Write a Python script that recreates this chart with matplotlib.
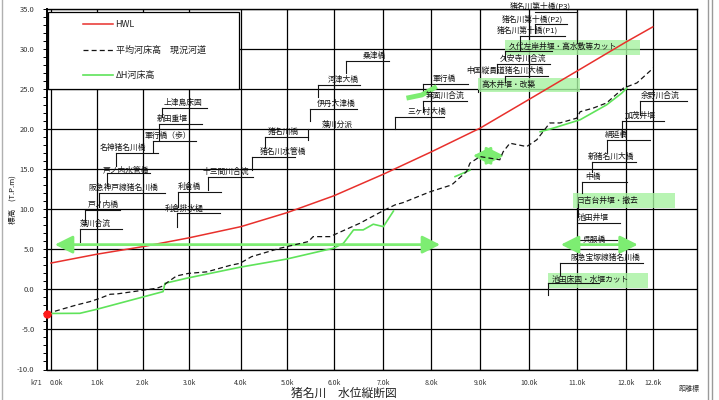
import numpy as np
import matplotlib
matplotlib.use("Agg")
import matplotlib.pyplot as plt
from matplotlib.patches import Rectangle
from matplotlib.lines import Line2D
import matplotlib.transforms as mtransforms

plt.rcParams['font.family'] = ['Noto Sans CJK JP', 'DejaVu Sans']
plt.rcParams['axes.unicode_minus'] = False

nan = np.nan

# distance markers along the channel (km) and their labels
marker_pos = [0.0, 0.95, 1.91, 2.87, 3.95, 4.91, 5.88, 6.91, 7.91, 8.92, 9.94, 10.94, 11.95, 12.51]
marker_labels = ["0.0k", "1.0k", "2.0k", "3.0k", "4.0k", "5.0k", "6.0k", "7.0k",
                 "8.0k", "9.0k", "10.0k", "11.0k", "12.0k", "12.6k"]

# HWL (design high water level)
hwl_km = [0.0, 0.95, 1.91, 2.87, 3.95, 4.91, 5.88, 6.91, 7.91, 8.92, 9.94, 10.94, 11.95, 12.51]
hwl_level = [3.3, 4.4, 5.35, 6.45, 7.85, 9.6, 11.7, 14.4, 17.2, 20.15, 23.75, 27.3, 30.9, 32.8]

# mean bed level, present channel
bed_km = [-0.08, 0.53, 0.81, 1.02, 1.23, 1.37, 1.85, 2.2, 2.33, 2.4, 2.61, 2.85, 3.24, 3.72,
          3.93, 4.17, 4.76, 5.35, 5.45, 5.8, 6.42, 6.91, 7.15, 7.32, 7.88, 8.33, 8.64, 8.71,
          8.92, 9.33, 9.4, 9.54, 9.89, 10.1, 10.37, 10.58, 10.93, 11.0, 11.27, 11.55, 11.9,
          12.18, 12.52]
bed_level = [-3.0, -1.94, -1.52, -1.1, -0.6, -0.56, -0.15, 0.15, 0.44, 0.8, 1.69, 2.0, 2.2, 3.0,
             3.27, 4.1, 5.15, 5.98, 6.6, 6.6, 8.27, 9.85, 10.56, 10.85, 12.2, 13.06, 14.73, 15.78,
             16.6, 16.2, 17.2, 18.27, 17.85, 18.7, 20.8, 20.8, 21.4, 22.2, 22.65, 23.3, 25.15,
             25.8, 27.65]

# ΔH bed level
dh_km = [-0.08, 0.6, 0.95, 2.33, 2.37, 2.82, 3.93, 4.9, 5.87, 6.08, 6.29, 6.49, 6.7, 6.91, 7.12,
         nan, 8.4, 8.71, nan, 10.17, 10.44, 11.0, 11.55, 11.86, 11.97]
dh_level = [-3.0, -2.98, -2.48, -0.27, 0.77, 1.4, 2.78, 3.8, 5.15, 5.77, 7.44, 7.44, 8.15, 7.85, 9.8,
            nan, 14.1, 14.9, nan, 19.7, 20.15, 21.2, 23.06, 24.5, 25.15]

# starting water level at the river mouth
start_km, start_level = -0.08, -3.1

# works ranges shown as double arrows: (from km, to km, level)
arrow_spans = [(0.08, 8.09, 5.6), (10.6, 12.2, 5.6), (8.77, 9.42, 16.7)]
weir_mark_km = [7.39, 7.71, 8.02]
weir_mark_level = [23.9, 24.3, 25.35]

# structure labels with leader lines: (leader km, leader bottom, underline level, underline end km, text km, text dy)
label_names = [
    "上津島床固", "新田重堰", "軍行橋（歩）", "名神猪名川橋", "戸ノ内水管橋", "阪急神戸線猪名川橋",
    "戸ノ内橋", "藻川合流", "利倉橋", "利倉排水樋", "十三間川合流", "猪名川水管橋", "猪名川橋",
    "藻川分派", "伊丹大津橋", "河津大橋", "桑津橋", "軍行橋", "箕面川合流", "三ヶ村大橋",
    "猪名川第十橋(P3)", "猪名川第十橋(P2)", "猪名川第十橋(P1)", "久安寺川合流",
    "中国縦貫道猪名川大橋", "余野川合流", "加茂井堰", "絹延橋", "新猪名川大橋", "中橋",
    "池田井堰", "呉服橋", "阪急宝塚線猪名川橋",
]
label_geom = [
    (2.31, 21.56, 22.69, 3.24, 2.35, 0.1),
    (2.25, 18.7, 20.7, 3.14, 2.2, 0.1),
    (2.12, 17.2, 18.56, 3.01, 1.95, 0.1),
    (1.35, 15.4, 17.1, 2.22, 1.02, 0.1),
    (1.16, 12.94, 14.56, 2.06, 1.08, -0.3),
    (1.0, 10.3, 12.06, 2.37, 0.77, 0.1),
    (0.71, 8.44, 9.94, 1.43, 0.77, 0.1),
    (0.6, 5.94, 7.56, 1.48, 0.6, 0.1),
    (2.64, 10.3, 12.19, 3.53, 2.64, 0.1),
    (2.62, 7.85, 9.5, 3.51, 2.37, 0.1),
    (3.26, 12.44, 14.06, 4.2, 3.16, 0.1),
    (4.18, 14.94, 16.6, 5.07, 4.35, 0.1),
    (4.45, 17.8, 19.1, 5.34, 4.51, 0.1),
    (5.34, 18.7, 20.0, 5.34, 5.63, 0.1),
    (5.38, 21.1, 22.56, 6.36, 5.53, 0.1),
    (5.55, 24.1, 25.56, 6.42, 5.76, 0.1),
    (6.13, 27.06, 28.6, 7.03, 6.47, 0.1),
    (7.73, 24.56, 25.69, 8.67, 7.94, 0.1),
    (7.73, 22.2, 23.6, 8.65, 7.78, 0.1),
    (7.15, 20.06, 21.56, 8.17, 7.42, 0.1),
    (10.94, 30.8, 34.7, 10.06, 9.54, 0.1),
    (10.06, 32.06, 33.15, 10.73, 9.38, 0.1),
    (9.75, 29.94, 31.7, 10.69, 9.27, 0.1),
    (9.27, 27.06, 28.19, 10.37, 9.33, 0.1),
    (9.44, 25.9, 26.7, 10.33, 8.63, 0.1),
    (12.25, 21.8, 23.6, 13.22, 12.25, 0.1),
    (11.87, 19.06, 21.1, 12.74, 11.93, 0.1),
    (11.56, 17.19, 18.69, 12.46, 11.52, 0.1),
    (11.25, 14.69, 15.94, 12.16, 11.16, 0.1),
    (11.04, 12.06, 13.44, 11.98, 11.1, 0.1),
    (10.94, 8.31, 8.31, 11.83, 10.96, 0.1),
    (10.85, 6.19, 6.19, 11.77, 11.06, -0.5),
    (10.58, 1.81, 3.35, 12.31, 10.79, 0.1),
]

# highlighted works (green boxes): (km from, km to, level low, level high), leader (km, bottom, top)
box_names = ["久代左岸井堰・高水敷等カット", "高木井堰・改築", "日吉台井堰・撤去", "池田床固・水堰カット"]
box_extent = [(9.44, 12.25, 29.3, 31.2), (8.88, 11.0, 24.7, 26.4),
              (10.85, 12.97, 10.19, 12.06), (10.33, 12.41, 0.19, 2.06)]
box_leader = [(9.44, 28.7, 29.8, 10.42), (8.88, 24.7, 24.9, 8.88),
              (10.96, 9.06, 10.7, 10.96), (10.33, -0.69, 0.81, 11.4)]

RED = '#e8302c'
GREEN = '#5fe35a'
ARROW_GREEN = '#7ded72'
BOX_GREEN = '#a6f2a0'
INK = '#141414'

fig = plt.figure(figsize=(7.19, 4.0), dpi=100)
ax = fig.add_axes([47 / 719, 30.5 / 400, 650 / 719, 360.2 / 400])
ax.set_xlim(-0.083, 13.43)
ax.set_ylim(-10, 35)

# grid and axes
ax.set_xticks(marker_pos)
ax.set_xticklabels(marker_labels)
ax.set_yticks(np.arange(-10, 36, 5))
ax.set_yticklabels([f"{v:.1f}" for v in np.arange(-10, 36, 5)])
ax.set_yticks(np.arange(-10, 36, 1), minor=True)
ax.set_axisbelow(True)
ax.grid(True, which='major', color='black', lw=0.9)
ax.tick_params(axis='x', length=0, pad=6.5, labelsize=5, labelcolor='#333333')
ax.tick_params(axis='y', which='both', direction='out', length=3, width=0.7,
               labelsize=5.5, pad=6, labelcolor='#333333')
for s in ax.spines.values():
    s.set_color('black')
    s.set_linewidth(1.0)
ax.spines['left'].set_linewidth(1.4)

first = ax.get_xticklabels()[0]
first.set_transform(first.get_transform() + mtransforms.ScaledTranslation(5 / 100, 0, fig.dpi_scale_trans))
ax.annotate("k71", xy=(-0.31, 0), xycoords=('data', 'axes fraction'), xytext=(0, -6.5),
            textcoords='offset points', ha='center', va='top', fontsize=5, color='#333333',
            annotation_clip=False)

# series
ax.plot(hwl_km, hwl_level, color=RED, lw=1.1, label='HWL', zorder=4)
ax.plot(bed_km, bed_level, color=INK, lw=0.9, ls=(0, (4, 2.5)), label='平均河床高　現況河道', zorder=5)
ax.plot(dh_km, dh_level, color=GREEN, lw=1.2, label='ΔH河床高', zorder=4)
ax.plot([start_km], [start_level], 'o', color='#ff1a1a', ms=5, clip_on=False, zorder=6)

for x0, x1, lv in arrow_spans:
    ax.annotate('', xy=(x1, lv), xytext=(x0, lv),
                arrowprops=dict(arrowstyle='<|-|>,head_length=0.9,head_width=0.45',
                                color=ARROW_GREEN, lw=2, mutation_scale=12,
                                shrinkA=0, shrinkB=0), zorder=4)
ax.plot(weir_mark_km, weir_mark_level, color=ARROW_GREEN, lw=3.5, solid_capstyle='butt', zorder=4)

# labels with leader lines
for name, (xl, ylo, yln, xe, xt, dy) in zip(label_names, label_geom):
    ax.plot([xl, xl], [ylo, yln], color=INK, lw=0.8, zorder=3)
    ax.plot([xl, xe], [yln, yln], color=INK, lw=0.8, zorder=3)
    ax.text(xt, yln + dy, name, fontsize=5.6, ha='left', va='bottom', color=INK, zorder=4)

for name, (x0, x1, y0, y1), (lx, lb, lt, le) in zip(box_names, box_extent, box_leader):
    ax.add_patch(Rectangle((x0, y0), x1 - x0, y1 - y0, facecolor=BOX_GREEN, edgecolor='none',
                           alpha=0.8, zorder=2.5))
    ax.plot([lx, lx], [lb, lt], color=INK, lw=0.8, zorder=3)
    ax.plot([lx, le], [lt, lt], color=INK, lw=0.8, zorder=3)
    ax.text(x0 + 0.08, (y0 + y1) / 2, name, fontsize=5.6, ha='left', va='center', color=INK, zorder=4)

# legend box
ax.add_patch(Rectangle((0.0015, 0.7778), 0.2939, 0.2152, transform=ax.transAxes,
                       facecolor='white', edgecolor='black', lw=0.9, zorder=3))
leg = ax.legend(loc='upper left', bbox_to_anchor=(0.0554, 0.969), frameon=False, borderpad=0,
                borderaxespad=0, fontsize=6.5, handlelength=3.3, handletextpad=0.3,
                labelspacing=1.8)
leg.set_zorder(6)
for t in leg.get_texts():
    t.set_color('#222222')

# titles
fig.text(0.017, 0.5, '標高　(T.P.m)', rotation=90, fontsize=5.5, ha='center', va='center', color=INK)
fig.text(0.478, 0.0165, '猪名川　水位縦断図', fontsize=8.5, ha='center', va='center', color='#222222')
fig.text(0.958, 0.028, '距離標', fontsize=5, ha='center', va='center', color='#333333')

# page frame
for xp, c in [(2, '#b0b0b0'), (708, '#9a9a9a'), (712, '#9a9a9a')]:
    fig.add_artist(Line2D([xp / 719, xp / 719], [0, 1], transform=fig.transFigure, color=c, lw=1))

fig.savefig('out.png', dpi=100)
